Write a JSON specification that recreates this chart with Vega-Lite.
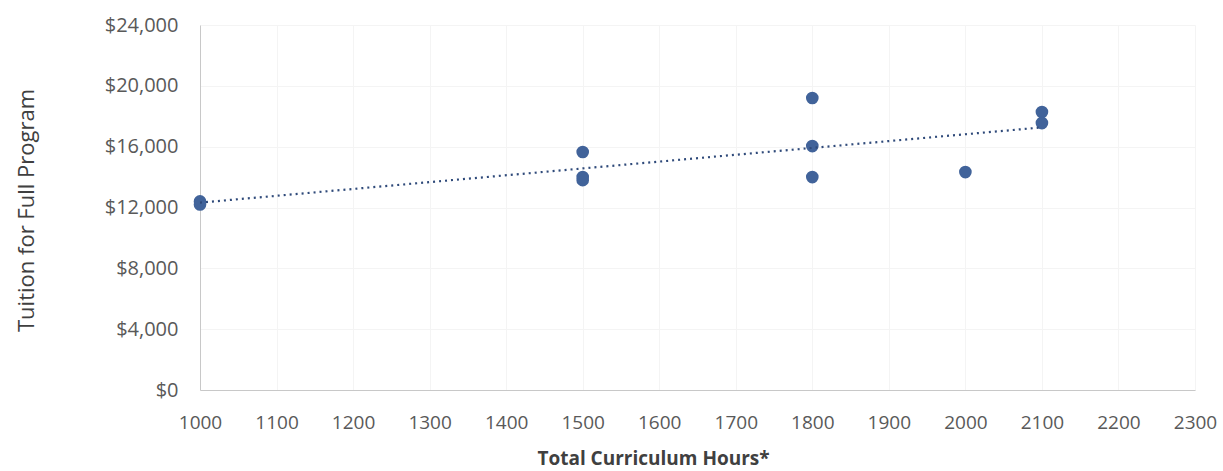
{
  "$schema": "https://vega.github.io/schema/vega-lite/v6.json",
  "width": 995,
  "height": 365,
  "autosize": "none",
  "padding": {"left": 200, "top": 25, "right": 28, "bottom": 81},
  "background": "white",
  "config": {
    "font": "Open Sans",
    "view": {"stroke": null},
    "axis": {
      "labelFont": "Open Sans",
      "titleFont": "Open Sans",
      "labelColor": "#595959",
      "titleColor": "#404040",
      "gridColor": "#f4f4f4",
      "gridWidth": 1,
      "domainColor": "#c8c8c8",
      "ticks": false,
      "labelFlush": false,
      "labelOverlap": false
    }
  },
  "data": {
    "values": [
      {"hours": 1000, "tuition": 12400},
      {"hours": 1000, "tuition": 12200},
      {"hours": 1500, "tuition": 15650},
      {"hours": 1500, "tuition": 13800},
      {"hours": 1500, "tuition": 14000},
      {"hours": 1800, "tuition": 19200},
      {"hours": 1800, "tuition": 16040},
      {"hours": 1800, "tuition": 14000},
      {"hours": 2000, "tuition": 14330},
      {"hours": 2100, "tuition": 18280},
      {"hours": 2100, "tuition": 17550}
    ]
  },
  "layer": [
    {
      "mark": {"type": "point", "filled": true, "size": 160, "color": "#41639a", "opacity": 1},
      "encoding": {
        "x": {
          "field": "hours", "type": "quantitative",
          "scale": {"domain": [1000, 2300], "nice": false, "zero": false},
          "axis": {
            "values": [1000,1100,1200,1300,1400,1500,1600,1700,1800,1900,2000,2100,2200,2300],
            "format": "d", "labelFontSize": 19, "labelPadding": 23,
            "title": "Total Curriculum Hours*", "titleFontSize": 19, "titleFontWeight": "bold",
            "titleX": 453, "titleY": 74, "titleAlign": "center", "titleBaseline": "alphabetic"
          }
        },
        "y": {
          "field": "tuition", "type": "quantitative",
          "scale": {"domain": [0, 24000], "nice": false},
          "axis": {
            "values": [0,4000,8000,12000,16000,20000,24000],
            "format": "$,.0f", "labelFontSize": 20, "labelPadding": 22,
            "title": "Tuition for Full Program", "titleFontSize": 22, "titleFontWeight": "normal",
            "titleX": -174, "titleY": 185, "titleAlign": "center", "titleBaseline": "middle", "titleAngle": -90
          }
        }
      }
    },
    {
      "mark": {"type": "line", "color": "#2f4a7a", "strokeWidth": 2.2, "strokeDash": [2, 4]},
      "transform": [{"regression": "tuition", "on": "hours"}],
      "encoding": {
        "x": {"field": "hours", "type": "quantitative"},
        "y": {"field": "tuition", "type": "quantitative"}
      }
    }
  ]
}
